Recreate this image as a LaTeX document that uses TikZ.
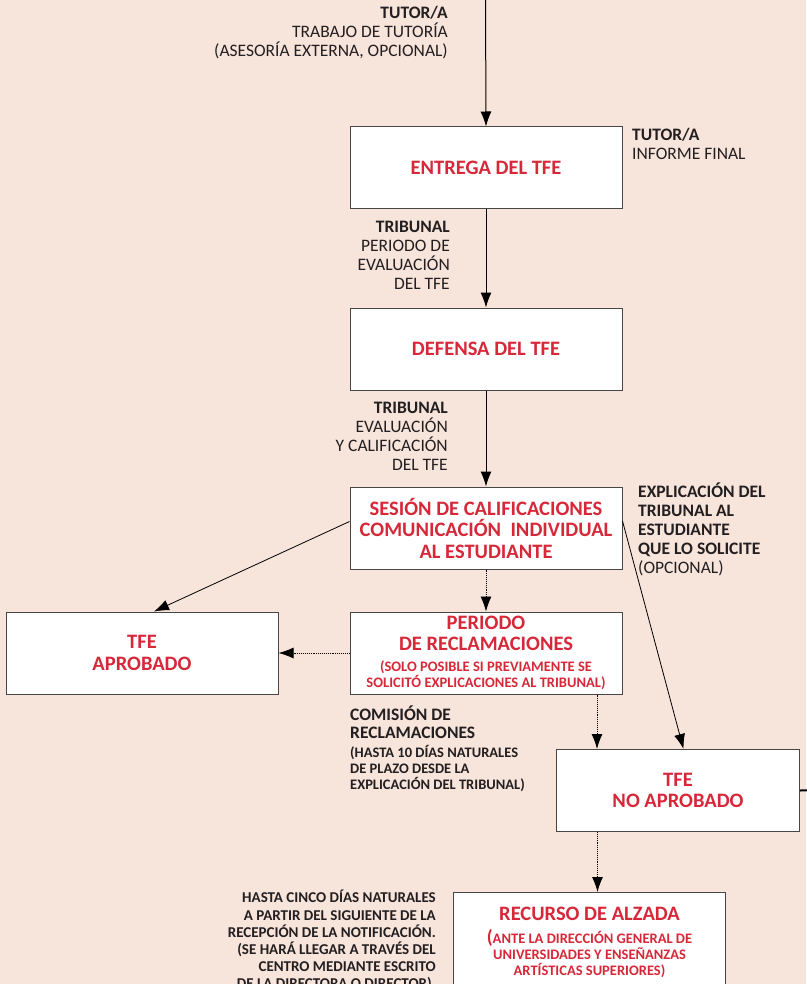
\documentclass[tikz,border=0pt]{standalone}
\usepackage{fontspec}
\setmainfont{Carlito}
\usetikzlibrary{arrows.meta,positioning}
\definecolor{fondo}{RGB}{247,228,219}
\definecolor{rojo}{RGB}{214,40,57}
\definecolor{borde}{RGB}{70,70,70}
\definecolor{texto}{RGB}{35,31,32}
\tikzset{
  block/.style = {rectangle, draw=borde, fill=white, line width=1pt,
    text=rojo, align=flush center, text width=262pt, inner sep=5pt,
    minimum height=82pt, font=\fontsize{20.5}{21.5}\selectfont\bfseries},
  note/.style = {text=texto, inner sep=0pt, font=\fontsize{17.5}{19}\selectfont},
  line/.style = {line width=1pt, -{Latex[length=15pt,width=11pt]}},
  dotline/.style = {line width=0.9pt, densely dotted,
    -{Latex[length=15pt,width=11pt]}}
}
\newcommand{\pequeno}{\fontsize{14.5}{16}\selectfont\bfseries}

\begin{document}
\begin{tikzpicture}[x=1pt,y=-1pt]
    \fill[fondo] (0,0) rectangle (806,984);
    \useasboundingbox (0,0) rectangle (806,984);

    \node[block] (entrega) at (486,168) {ENTREGA DEL TFE};
    \node[block, below=98pt of entrega] (defensa) {DEFENSA DEL TFE};
    \node[block, below=96pt of defensa] (sesion)
      {SESIÓN DE CALIFICACIONES\\ COMUNICACIÓN\ \ INDIVIDUAL\\ AL ESTUDIANTE};
    \node[block, below=42pt of sesion, inner ysep=2pt] (periodo)
      {PERIODO\\ DE RECLAMACIONES\\[5pt]
       {\pequeno (SOLO POSIBLE SI PREVIAMENTE SE\\ SOLICITÓ EXPLICACIONES AL TRIBUNAL)\par}};
    \node[block, left=71pt of periodo] (aprobado) {TFE\\ APROBADO};
    \node[block, text width=233pt, anchor=north west] (noaprobado) at (556,749)
      {TFE\\ NO APROBADO};
    \node[block, minimum height=100pt, anchor=north west] (recurso) at (453,892)
      {RECURSO DE ALZADA\\[7pt]
       {\pequeno {\fontsize{19}{16}\selectfont(}ANTE LA DIRECCIÓN GENERAL DE\\
        UNIVERSIDADES Y ENSEÑANZAS\\ ARTÍSTICAS SUPERIORES)\par}};

    % textos
    \node[note, align=right, anchor=north east] (tutoria) at (448,6)
      {\textbf{TUTOR/A}\\ TRABAJO DE TUTORÍA\\ (ASESORÍA EXTERNA, OPCIONAL)};
    \node[note, align=left, anchor=north west] (informe) at (632,128)
      {\textbf{TUTOR/A}\\ INFORME FINAL};
    \node[note, align=right, anchor=north east] (evaluacion) at (450,221)
      {\textbf{TRIBUNAL}\\ PERIODO DE\\ EVALUACIÓN\\ DEL TFE};
    \node[note, align=right, anchor=north east] (calificacion) at (448,402)
      {\textbf{TRIBUNAL}\\ EVALUACIÓN\\ Y CALIFICACIÓN\\ DEL TFE};
    \node[note, align=left, anchor=north west] (explicacion) at (638,483)
      {\textbf{EXPLICACIÓN DEL}\\ \textbf{TRIBUNAL AL}\\ \textbf{ESTUDIANTE}\\
       \textbf{QUE LO SOLICITE}\\ (OPCIONAL)};
    \node[note, align=flush left, text width=200pt, anchor=north west,
      font=\fontsize{17.5}{18}\selectfont\bfseries] (comision) at (350,706)
      {COMISIÓN DE\\ RECLAMACIONES\\[3pt]
       {\pequeno (HASTA 10 DÍAS NATURALES\\
        DE PLAZO DESDE LA\\ EXPLICACIÓN DEL TRIBUNAL)\par}};
    \node[note, align=right, anchor=north east, font=\fontsize{15}{17.2}\selectfont\bfseries]
      (plazo) at (436,890)
      {HASTA CINCO DÍAS NATURALES\\ A PARTIR DEL SIGUIENTE DE LA\\
       RECEPCIÓN DE LA NOTIFICACIÓN.\\ (SE HARÁ LLEGAR A TRAVÉS DEL\\
       CENTRO MEDIANTE ESCRITO\\ DE LA DIRECTORA O DIRECTOR).};

    % flechas
    \coordinate (inicio) at (485.5,-2);
    \coordinate (salida) at (830,790);
    \draw[line] (inicio) -- (entrega.north);
    \draw[line] (entrega.south) -- (defensa.north);
    \draw[line] (defensa.south) -- (sesion.north);
    \draw[line, line width=0.8pt] ([yshift=6.5pt]sesion.west) -- ([xshift=12pt]aprobado.north);
    \draw[line, line width=0.8pt] ([yshift=7pt]sesion.east) -- ([xshift=5.5pt]noaprobado.north);
    \draw[dotline] (sesion.south) -- (periodo.north);
    \draw[dotline] (periodo.west) -- (aprobado.east);
    \draw[dotline] ([xshift=111pt]periodo.south) -- ([xshift=111pt]periodo.south |- noaprobado.north);
    \draw[dotline] ([xshift=-80.5pt]noaprobado.south) -- ([xshift=-80.5pt]noaprobado.south |- recurso.north);
    \draw[line width=2pt] (noaprobado.east) -- (salida);
\end{tikzpicture}
\end{document}
